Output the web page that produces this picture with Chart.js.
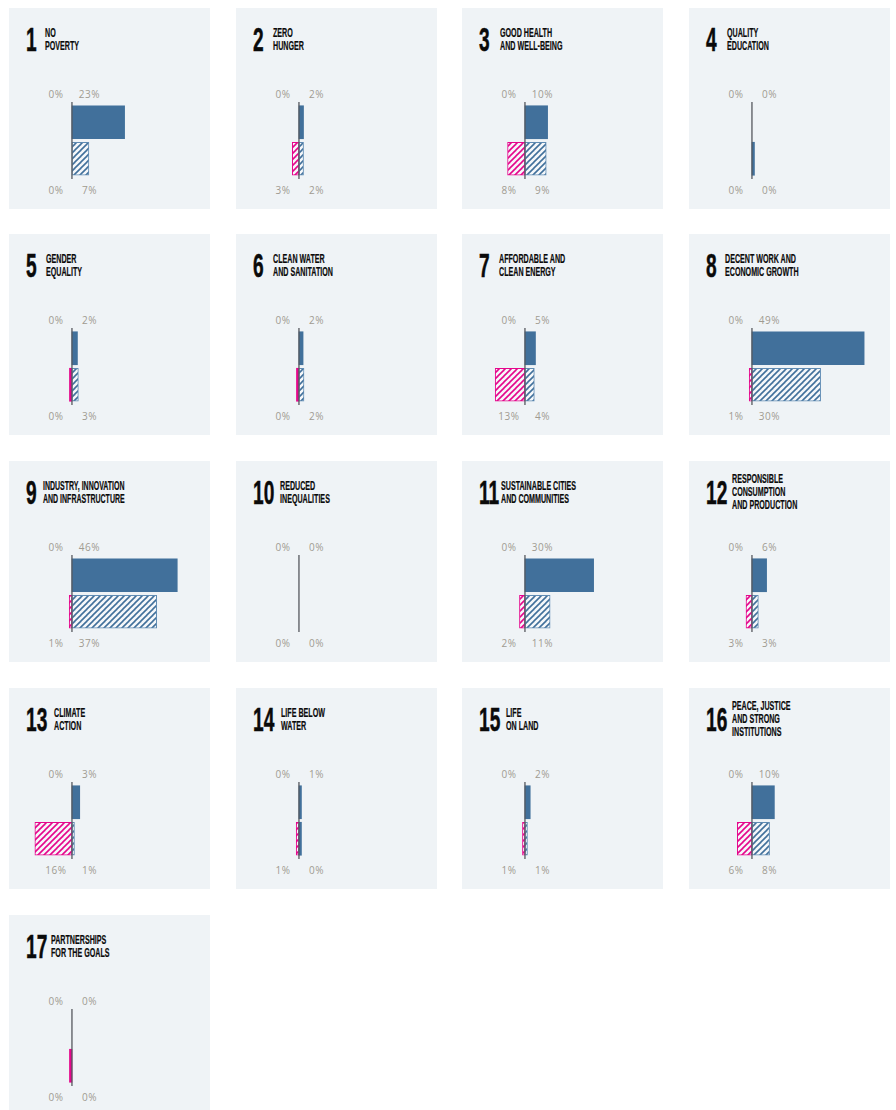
<!DOCTYPE html>
<html>
<head>
<meta charset="utf-8">
<script src="https://cdn.jsdelivr.net/npm/chart.js@4"></script>
<style>
  html, body { margin: 0; padding: 0; background: #fff; }
  #grid { position: relative; width: 896px; height: 1110px; overflow: hidden; }
  .panel { position: absolute; width: 201px; height: 201px; background: #eff3f6; }
  .panel canvas { position: absolute; left: 0; top: 94px; }
  .num, .title { position: absolute; color: #0a0a0a; font-family: "Liberation Sans", sans-serif; font-weight: 700; transform-origin: left center; white-space: nowrap; }
  .num { left: 17px; top: 12px; height: 40px; line-height: 40px; font-size: 33px; transform: scaleX(.58); -webkit-text-stroke: .5px #0a0a0a; }
  .title { top: 31.5px; font-size: 12.5px; line-height: 13.4px; transform: translateY(-50%) scaleX(.57); -webkit-text-stroke: .2px #0a0a0a; }
  .title.long { transform: translateY(-50%) scaleX(.56); }
  .pct { position: absolute; width: 40px; margin-left: -20px; text-align: center; font: 400 10px "Open Sans", sans-serif; letter-spacing: .6px; color: #a09b91; line-height: 12px; }
</style>
</head>
<body>
<div id="grid"></div>
<script>
// Sustainable Development Goals
const goalNames = [
  ["NO", "POVERTY"],
  ["ZERO", "HUNGER"],
  ["GOOD HEALTH", "AND WELL-BEING"],
  ["QUALITY", "EDUCATION"],
  ["GENDER", "EQUALITY"],
  ["CLEAN WATER", "AND SANITATION"],
  ["AFFORDABLE AND", "CLEAN ENERGY"],
  ["DECENT WORK AND", "ECONOMIC GROWTH"],
  ["INDUSTRY, INNOVATION", "AND INFRASTRUCTURE"],
  ["REDUCED", "INEQUALITIES"],
  ["SUSTAINABLE CITIES", "AND COMMUNITIES"],
  ["RESPONSIBLE", "CONSUMPTION", "AND PRODUCTION"],
  ["CLIMATE", "ACTION"],
  ["LIFE BELOW", "WATER"],
  ["LIFE", "ON LAND"],
  ["PEACE, JUSTICE", "AND STRONG", "INSTITUTIONS"],
  ["PARTNERSHIPS", "FOR THE GOALS"]
];

// Values in percent
const topPositive =    [23, 2, 9.9, 0, 2.4, 1.8, 4.6, 49, 46, 0, 30, 6.4, 3.4, 0.5, 2.3, 9.8, 0];
const topNegative =    [0, 0, 0, 0, 0, 0, 0, 0, 0, 0, 0, 0, 0, 0, 0, 0, 0];
const bottomPositive = [7.4, 2, 9.3, 0.4, 2.8, 2.2, 4.1, 30, 37, 0, 11, 2.8, 1.1, 0.4, 1, 7.7, 0];
const bottomNegative = [0, 2.9, 7.6, 0, 0.4, 0.4, 13, 1.2, 1.2, 0, 2.4, 2.6, 16.2, 1.2, 1, 6.4, 0.4];
const rowLabels = ["Top", "Bottom"];

const BLUE = "#41709b";
const PINK = "#e5068c";

// Diagonal stripes for the hatched bars
function hatch(color) {
  const size = 6;
  const c = document.createElement("canvas");
  c.width = size;
  c.height = size;
  const g = c.getContext("2d");
  g.fillStyle = "#f6f8fa";
  g.fillRect(0, 0, size, size);
  g.strokeStyle = color;
  g.lineWidth = 1.6;
  [[-size, size, size, -size], [0, size, size, 0], [0, 2 * size, 2 * size, 0]].forEach(l => {
    g.beginPath();
    g.moveTo(l[0], l[1]);
    g.lineTo(l[2], l[3]);
    g.stroke();
  });
  return g.createPattern(c, "repeat");
}

const blueHatch = hatch(BLUE);
const pinkHatch = hatch(PINK);

// Vertical zero line, a bit longer than the bars
const zeroLine = {
  id: "zeroLine",
  afterDatasetsDraw(chart) {
    const x = chart.scales.x.getPixelForValue(0);
    const ctx = chart.ctx;
    ctx.save();
    ctx.strokeStyle = "#55595e";
    ctx.lineWidth = 1.3;
    ctx.beginPath();
    ctx.moveTo(x, 0);
    ctx.lineTo(x, chart.height);
    ctx.stroke();
    ctx.restore();
  }
};

const colLeft = [9, 236, 462, 689];
const rowTop = [8, 234, 461, 688, 915];
const titleLeft = [36, 37, 38, 38, 37, 37, 37, 36, 34, 44, 39, 43, 45, 45, 44, 43, 42];
const grid = document.getElementById("grid");

function addPct(panel, x, y, value) {
  const s = document.createElement("div");
  s.className = "pct";
  s.style.left = x + "px";
  s.style.top = y + "px";
  s.textContent = Math.round(value) + "%";
  panel.appendChild(s);
}

goalNames.forEach((lines, i) => {
  const panel = document.createElement("div");
  panel.className = "panel";
  panel.style.left = colLeft[i % 4] + "px";
  panel.style.top = rowTop[Math.floor(i / 4)] + "px";

  const num = document.createElement("div");
  num.className = "num";
  num.textContent = i + 1;
  panel.appendChild(num);

  const title = document.createElement("div");
  title.className = i === 8 ? "title long" : "title";
  title.style.left = titleLeft[i] + "px";
  title.innerHTML = lines.join("<br>");
  panel.appendChild(title);

  addPct(panel, 47, 80, topNegative[i]);
  addPct(panel, 80.5, 80, topPositive[i]);
  addPct(panel, 47, 176, bottomNegative[i]);
  addPct(panel, 80.5, 176, bottomPositive[i]);

  const canvas = document.createElement("canvas");
  canvas.width = 201;
  canvas.height = 77;
  panel.appendChild(canvas);
  grid.appendChild(panel);

  // zero stays null so minBarLength does not draw a bar for it,
  // and slivers under 0.5 are too thin to show stripes
  new Chart(canvas.getContext("2d"), {
    type: "bar",
    data: {
      labels: rowLabels,
      datasets: [
        {
          label: "Positive",
          data: [topPositive[i] || null, bottomPositive[i] || null],
          backgroundColor: [BLUE, bottomPositive[i] < 0.5 ? BLUE : blueHatch],
          borderColor: [BLUE, bottomPositive[i] < 0.5 ? BLUE : "#5f8bb3"],
          borderWidth: [0, bottomPositive[i] < 0.5 ? 0 : 1],
          borderSkipped: false,
          barThickness: 33,
          minBarLength: 2.5
        },
        {
          label: "Negative",
          data: [-topNegative[i] || null, -bottomNegative[i] || null],
          backgroundColor: [PINK, bottomNegative[i] < 0.5 ? PINK : pinkHatch],
          borderColor: PINK,
          borderWidth: [0, bottomNegative[i] < 0.5 ? 0 : 1],
          borderSkipped: false,
          barThickness: 33,
          minBarLength: 2.5
        }
      ]
    },
    options: {
      indexAxis: "y",
      responsive: false,
      animation: false,
      layout: { padding: { top: 2, bottom: 2, left: 0, right: 0 } },
      scales: {
        x: { display: false, stacked: true, min: -27.5, max: 60.3 },
        y: { display: false, stacked: true }
      },
      plugins: { legend: { display: false }, tooltip: { enabled: false } }
    },
    plugins: [zeroLine]
  });
});
</script>
</body>
</html>
